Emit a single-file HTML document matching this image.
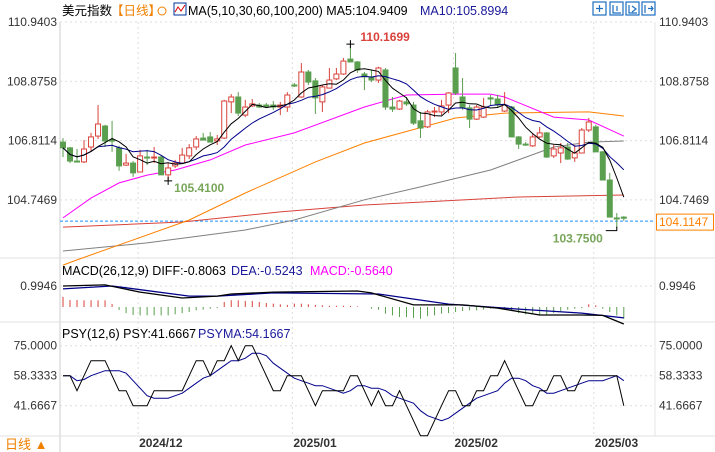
<!DOCTYPE html>
<html><head><meta charset="utf-8">
<style>
html,body{margin:0;padding:0;background:#fff;}
svg{display:block;font-family:"Liberation Sans","Noto Sans CJK SC",sans-serif;}
</style></head>
<body>
<svg id="c" width="715" height="452" viewBox="0 0 715 452" xmlns="http://www.w3.org/2000/svg">
<g id="static">
 <text x="62" y="15" font-size="12.5" fill="#000">美元指数</text>
 <text x="111" y="15" font-size="12.5" fill="#f08000">【日线】</text>
 <circle cx="162" cy="11" r="4" fill="none" stroke="#f08000"/>
 <rect x="174" y="3" width="12" height="12" fill="#fff" stroke="#003399"/>
 <polyline points="175,12 178,7 181,11 185,5" fill="none" stroke="#d00"/>
 <text x="188" y="15" font-size="12.5" fill="#000">MA(5,10,30,60,100,200) MA5:104.9409</text>
 <text x="420" y="15" font-size="12.5" fill="#1a1a9a">MA10:105.8994</text>
 <g stroke="#1f6fc0" fill="none" stroke-width="1.2">
  <rect x="593" y="2" width="13" height="13"/>
  <rect x="610" y="2" width="13" height="13"/>
  <rect x="626" y="2" width="13" height="13"/>
  <rect x="642" y="2" width="13" height="13"/>
  <path d="M599.5 5v7M596 8.5h7M613 5v8h8M617 6v5M626 0M629 5v8h8M632 6l4 3-4 3M645 5v8M648 8.5h5M651 6l2 2.5-2 2.5"/>
 </g>
</g>
<g id="grid"></g>
<g id="plot"></g>
</svg>
<script>
// ===== data =====
const categories = ["11/14","11/15","11/18","11/19","11/20","11/21","11/22","11/25","11/26","11/27","11/28","11/29","12/02","12/03","12/04","12/05","12/06","12/09","12/10","12/11","12/12","12/13","12/16","12/17","12/18","12/19","12/20","12/23","12/24","12/26","12/27","12/30","12/31","01/02","01/03","01/06","01/07","01/08","01/09","01/10","01/13","01/14","01/15","01/16","01/17","01/20","01/21","01/22","01/23","01/24","01/27","01/28","01/29","01/30","01/31","02/03","02/04","02/05","02/06","02/07","02/10","02/11","02/12","02/13","02/14","02/17","02/18","02/19","02/20","02/21","02/24","02/25","02/26","02/27","02/28","03/03","03/04","03/05","03/06","03/07","03/10"];
const opens = [106.76,106.56,106.10,106.07,106.59,106.97,107.32,106.83,106.56,105.96,106.03,105.72,106.24,106.21,106.24,105.62,105.93,106.03,106.28,106.59,106.90,106.94,106.80,106.90,108.16,108.33,107.70,108.02,108.05,108.05,108.05,107.98,107.98,108.75,108.33,109.20,108.89,108.16,108.64,108.96,109.13,109.65,109.55,109.13,109.03,108.92,109.27,107.98,107.91,108.16,108.05,107.50,107.29,107.81,107.81,108.05,109.34,108.33,107.95,107.56,107.63,108.30,108.26,107.84,107.98,106.94,106.69,106.63,106.94,107.08,106.28,106.38,106.59,106.21,106.38,107.18,107.29,106.42,105.44,104.12,104.15];
const highs = [106.90,106.59,106.52,106.83,107.08,108.05,107.36,107.50,106.63,106.35,106.10,106.49,106.49,106.59,106.31,106.03,106.14,106.56,106.69,106.97,107.08,107.11,107.01,108.23,108.43,108.50,108.23,108.26,108.12,108.12,108.19,108.16,108.50,108.82,109.51,109.27,108.99,108.75,109.34,109.34,109.69,110.17,109.58,109.20,109.27,109.38,109.34,108.33,108.23,108.33,108.16,107.81,107.88,107.98,108.23,108.50,109.86,108.99,108.05,108.05,108.30,108.40,108.40,108.50,108.02,106.97,106.76,107.04,107.29,107.11,106.66,106.73,106.73,106.66,107.25,107.60,107.36,106.45,105.69,104.29,104.18];
const lows = [106.24,106.03,106.07,106.03,106.42,106.87,106.59,106.42,105.76,105.93,105.55,105.72,105.96,106.03,105.62,105.41,105.86,106.03,106.17,106.49,106.83,106.76,106.66,106.87,107.77,107.67,107.63,107.98,107.95,107.95,107.88,107.70,107.81,108.68,108.30,108.75,107.74,107.81,108.64,108.92,109.10,109.55,109.17,108.57,108.85,108.82,107.88,107.81,107.88,108.02,107.36,106.90,107.25,107.63,107.70,107.77,108.40,107.88,107.25,107.53,107.60,108.05,107.98,107.81,106.94,106.52,106.63,106.59,106.90,106.21,106.21,106.03,106.14,106.07,106.38,107.11,106.42,105.44,104.15,103.75,104.02];
const closes = [106.56,106.10,106.07,106.52,106.94,107.39,106.80,106.80,105.93,106.03,105.69,106.28,106.21,106.24,105.62,105.86,106.03,106.31,106.56,106.87,106.83,106.76,106.87,108.19,108.33,107.77,107.98,108.09,107.98,107.98,107.98,108.05,108.40,108.71,109.20,108.85,108.30,108.68,108.92,109.13,109.58,109.55,109.27,109.03,108.92,109.34,107.98,107.91,108.19,108.09,107.42,107.25,107.81,107.84,108.02,108.47,108.47,107.95,107.56,107.98,107.98,108.26,108.05,108.05,106.94,106.69,106.66,106.94,107.08,106.24,106.52,106.56,106.17,106.38,107.18,107.46,106.42,105.44,104.15,104.09,104.11];
// long moving averages (sampled at candle index)
const ma30Idx = [0,4,8,12,16,21,26,33,43,49,56,61,63,70,75,80];
const ma30Val = [104.12,104.81,105.34,105.61,105.79,106.14,106.66,107.08,107.98,108.40,108.43,108.43,108.33,107.63,107.53,106.97];
const ma60Idx = [0,2,18,26,36,43,56,63,75,80];
const ma60Val = [102.48,102.66,104.05,104.99,106.07,106.73,107.60,107.77,107.81,107.67];
const ma100Idx = [0,12,26,33,43,51,61,70,75,80];
const ma100Val = [102.97,103.25,103.70,104.05,104.75,105.20,105.79,106.59,106.76,106.80];
const ma200Idx = [0,17,31,43,51,65,80];
const ma200Val = [103.80,103.98,104.33,104.57,104.67,104.85,104.92];
// MACD
const diffIdx = [0,6,11,17,22,24,30,42,44,50,57,62,68,74,77,80];
const diffVal = [1.00,1.05,0.71,0.43,0.52,0.62,0.71,0.76,0.67,0.10,0.10,-0.05,-0.38,-0.38,-0.40,-0.81];
const deaIdx = [0,7,18,22,30,45,55,65,74,80];
const deaVal = [0.86,1.00,0.52,0.52,0.67,0.62,0.14,-0.10,-0.29,-0.52];
const macdHist = [0.48,0.33,0.33,0.32,0.32,0.32,0.32,0.14,-0.14,-0.29,-0.38,-0.40,-0.40,-0.40,-0.40,-0.40,-0.35,-0.29,-0.24,-0.16,-0.13,-0.08,-0.05,0.24,0.32,0.32,0.29,0.29,0.24,0.19,0.16,0.13,0.10,0.16,0.16,0.13,0.10,0.08,0.06,0.06,0.06,0.05,0.03,0.0,-0.08,-0.13,-0.32,-0.40,-0.48,-0.48,-0.52,-0.56,-0.44,-0.40,-0.32,-0.29,-0.24,-0.19,-0.16,-0.16,-0.13,-0.08,-0.05,-0.05,-0.19,-0.29,-0.35,-0.32,-0.40,-0.35,-0.29,-0.19,-0.13,-0.08,-0.05,0.13,0.08,-0.08,-0.24,-0.40,-0.56];
// PSY
const psy = [58.33,58.33,50,58.33,66.67,66.67,66.67,58.33,50,50,41.67,41.67,41.67,50,50,50,50,50,58.33,66.67,66.67,58.33,66.67,66.67,75,66.67,75,75,66.67,58.33,50,50,58.33,58.33,58.33,50,41.67,50,50,50,50,58.33,58.33,50,41.67,50,41.67,41.67,50,41.67,33.33,25,25,33.33,41.67,50,50,41.67,41.67,50,50,58.33,58.33,66.67,58.33,50,41.67,41.67,50,50,58.33,58.33,50,50,58.33,58.33,58.33,58.33,58.33,58.33,41.67];
const priceTicks = [110.9403,108.8758,106.8114,104.7469];
const macdTicks = [0.9946];
const psyTicks = [75.0000,58.3333,41.6667];
const dateLabels = ["2024/12","2025/01","2025/02","2025/03"];
const dateIdx = [11,33,56,76];
const lastPrice = 104.1147;

// ===== scales =====
const X0=63, DX=7.01, L=60, R=655;
const xs = i => X0 + i*DX;
const yP = p => 22 + (110.9403 - p)*28.73;
const yM = v => 307 - v*21;
const yS = v => 345.7 + (75 - v)*1.8;
const NS="http://www.w3.org/2000/svg";
const plot=document.getElementById('plot'), grid=document.getElementById('grid');
function el(tag, attrs, parent){const e=document.createElementNS(NS,tag);for(const k in attrs)e.setAttribute(k,attrs[k]);(parent||plot).appendChild(e);return e;}
function fmt(v){return v.toFixed(4);}

// frame & grid
let ln;
ln=el('line',{x1:L,y1:22,x2:L,y2:452,stroke:'#ccc'},grid);


ln=el('line',{x1:R,y1:22,x2:R,y2:436,stroke:'#e6e6e6'},grid);


[258,322,436].forEach(y=>{
  const s=el('line',{x1:0,y1:y,x2:715,y2:y,stroke:'#e2e2e2'},grid);
  
  
});
function hTicks(ticks, yf, name){
  ticks.forEach(t=>{
    const y=yf(t);
    const g=el('line',{x1:L,y1:y,x2:R,y2:y,stroke:'#ddd','stroke-dasharray':'2,3'},grid);
    
    
    const a=el('text',{x:57,y:y+4,'font-size':12,'text-anchor':'end',fill:'#333'},grid);
    a.textContent=fmt(t);
    
    
    const b=el('text',{x:659,y:y+4,'font-size':12,fill:'#333'},grid);
    b.textContent=fmt(t);
    
    
  });
}
hTicks(priceTicks,yP,'price');
hTicks(macdTicks,yM,'macd');
hTicks(psyTicks,yS,'psy');
dateIdx.forEach((di,k)=>{
  const x=xs(di)-2;
  const g=el('line',{x1:x,y1:22,x2:x,y2:436,stroke:'#ddd','stroke-dasharray':'2,3'},grid);
  
  
  const t=el('text',{x:x+1,y:447,'font-size':12,'font-weight':'bold',fill:'#333'},grid);
  t.textContent=dateLabels[k];
  
  
});

// last price dashed line
ln=el('line',{x1:L,y1:yP(lastPrice)+3,x2:R,y2:yP(lastPrice)+3,stroke:'#1e90ff','stroke-dasharray':'3,2'});



function path(idx, vals, yf, color, name, w){
  let d='';
  idx.forEach((i,k)=>{d+=(k?'L':'M')+xs(i).toFixed(1)+' '+yf(vals[k]).toFixed(1);});
  const p=el('path',{d:d,fill:'none',stroke:color,'stroke-width':w||1});
  
  
}
path(ma200Idx,ma200Val,yP,'#d9423a','ma200-line');
path(ma100Idx,ma100Val,yP,'#808080','ma100-line');
path(ma60Idx,ma60Val,yP,'#ff8000','ma60-line');
path(ma30Idx,ma30Val,yP,'#ff00ff','ma30-line');

// candles
closes.forEach((c,i)=>{
  const o=opens[i], up=c>=o, col=up?'#d9423a':'#5a9e4f', x=xs(i);
  const g=el('g',{});
  
  
  el('line',{x1:x,y1:yP(highs[i]),x2:x,y2:yP(lows[i]),stroke:col},g);
  const top=yP(Math.max(o,c)), bot=yP(Math.min(o,c));
  el('rect',{x:x-2.5,y:top,width:5,height:Math.max(bot-top,1),fill:up?'#fff':col,stroke:col,'stroke-width':1},g);
});

// MA5 / MA10 computed from closes
function maOf(n){const idx=[],v=[];closes.forEach((c,i)=>{const s=closes.slice(Math.max(0,i-n+1),i+1);idx.push(i);v.push(s.reduce((a,b)=>a+b,0)/s.length);});return [idx,v];}
const m10=maOf(10), m5=maOf(5);
path(m10[0],m10[1],yP,'#00008b','ma10-line');
path(m5[0],m5[1],yP,'#000','ma5-line');

// annotations
function ann(txt,x,y,color,name){const t=el('text',{x:x,y:y,'font-size':12,'font-weight':'bold',fill:color});t.textContent=txt;}
const hiI=highs.indexOf(Math.max(...highs)), loI=lows.indexOf(Math.min(...lows));
el('path',{d:`M${xs(hiI)-4} ${yP(highs[hiI])}h8M${xs(hiI)} ${yP(highs[hiI])-4}v8`,stroke:'#000'});
ann('110.1699',xs(hiI)+10,yP(highs[hiI])-3,'#d9423a','high-annotation');
el('path',{d:`M${xs(15)-4} ${yP(105.41)}h8M${xs(15)} ${yP(105.41)-4}v8`,stroke:'#000'});
ann('105.4100',xs(15)+6,yP(105.41)+11,'#78a65a','low-annotation-dec');
el('path',{d:`M${xs(loI)-11} ${yP(lows[loI])+2}h11v-4`,stroke:'#000',fill:'none'});
ann('103.7500',xs(loI)-64,yP(lows[loI])+14,'#78a65a','low-annotation-mar');

// last price box
const lb=el('g',{});


el('rect',{x:656.5,y:yP(lastPrice)-4,width:57,height:16,fill:'#fff',stroke:'#ff8000'},lb);
const lt=el('text',{x:659,y:yP(lastPrice)+8,'font-size':12,fill:'#ff8000'},lb);
lt.textContent=fmt(lastPrice);

// MACD panel
const mh=el('text',{x:62,y:275,'font-size':12.5,fill:'#000'});
mh.textContent='MACD(26,12,9) DIFF:-0.8063';


const mh2=el('text',{x:231,y:275,'font-size':12.5,fill:'#1a1a9a'});
mh2.textContent='DEA:-0.5243';


const mh3=el('text',{x:310,y:275,'font-size':12.5,fill:'#ff00ff'});
mh3.textContent='MACD:-0.5640';


macdHist.forEach((v,i)=>{
  const b=el('line',{x1:xs(i),y1:yM(0),x2:xs(i),y2:yM(v),stroke:v>=0?'#d9423a':'#5a9e4f'});
  
  
});
path(deaIdx,deaVal,yM,'#00008b','dea-line',1.3);
path(diffIdx,diffVal,yM,'#000','diff-line',1.3);

// PSY panel
const ph=el('text',{x:62,y:338,'font-size':12.5,fill:'#000'});
ph.textContent='PSY(12,6) PSY:41.6667';


const ph2=el('text',{x:198,y:338,'font-size':12.5,fill:'#1a1a9a'});
ph2.textContent='PSYMA:54.1667';


const pIdx=psy.map((v,i)=>i);
const psyma=psy.map((v,i)=>{const s=psy.slice(Math.max(0,i-5),i+1);return s.reduce((a,b)=>a+b,0)/s.length;});
path(pIdx,psyma,yS,'#00008b','psyma-line');
path(pIdx,psy,yS,'#000','psy-line');

// bottom-left period label
const bl=el('text',{x:5,y:449,'font-size':13,fill:'#f08000'});
bl.textContent='日线 ▲';


</script>
</body></html>
